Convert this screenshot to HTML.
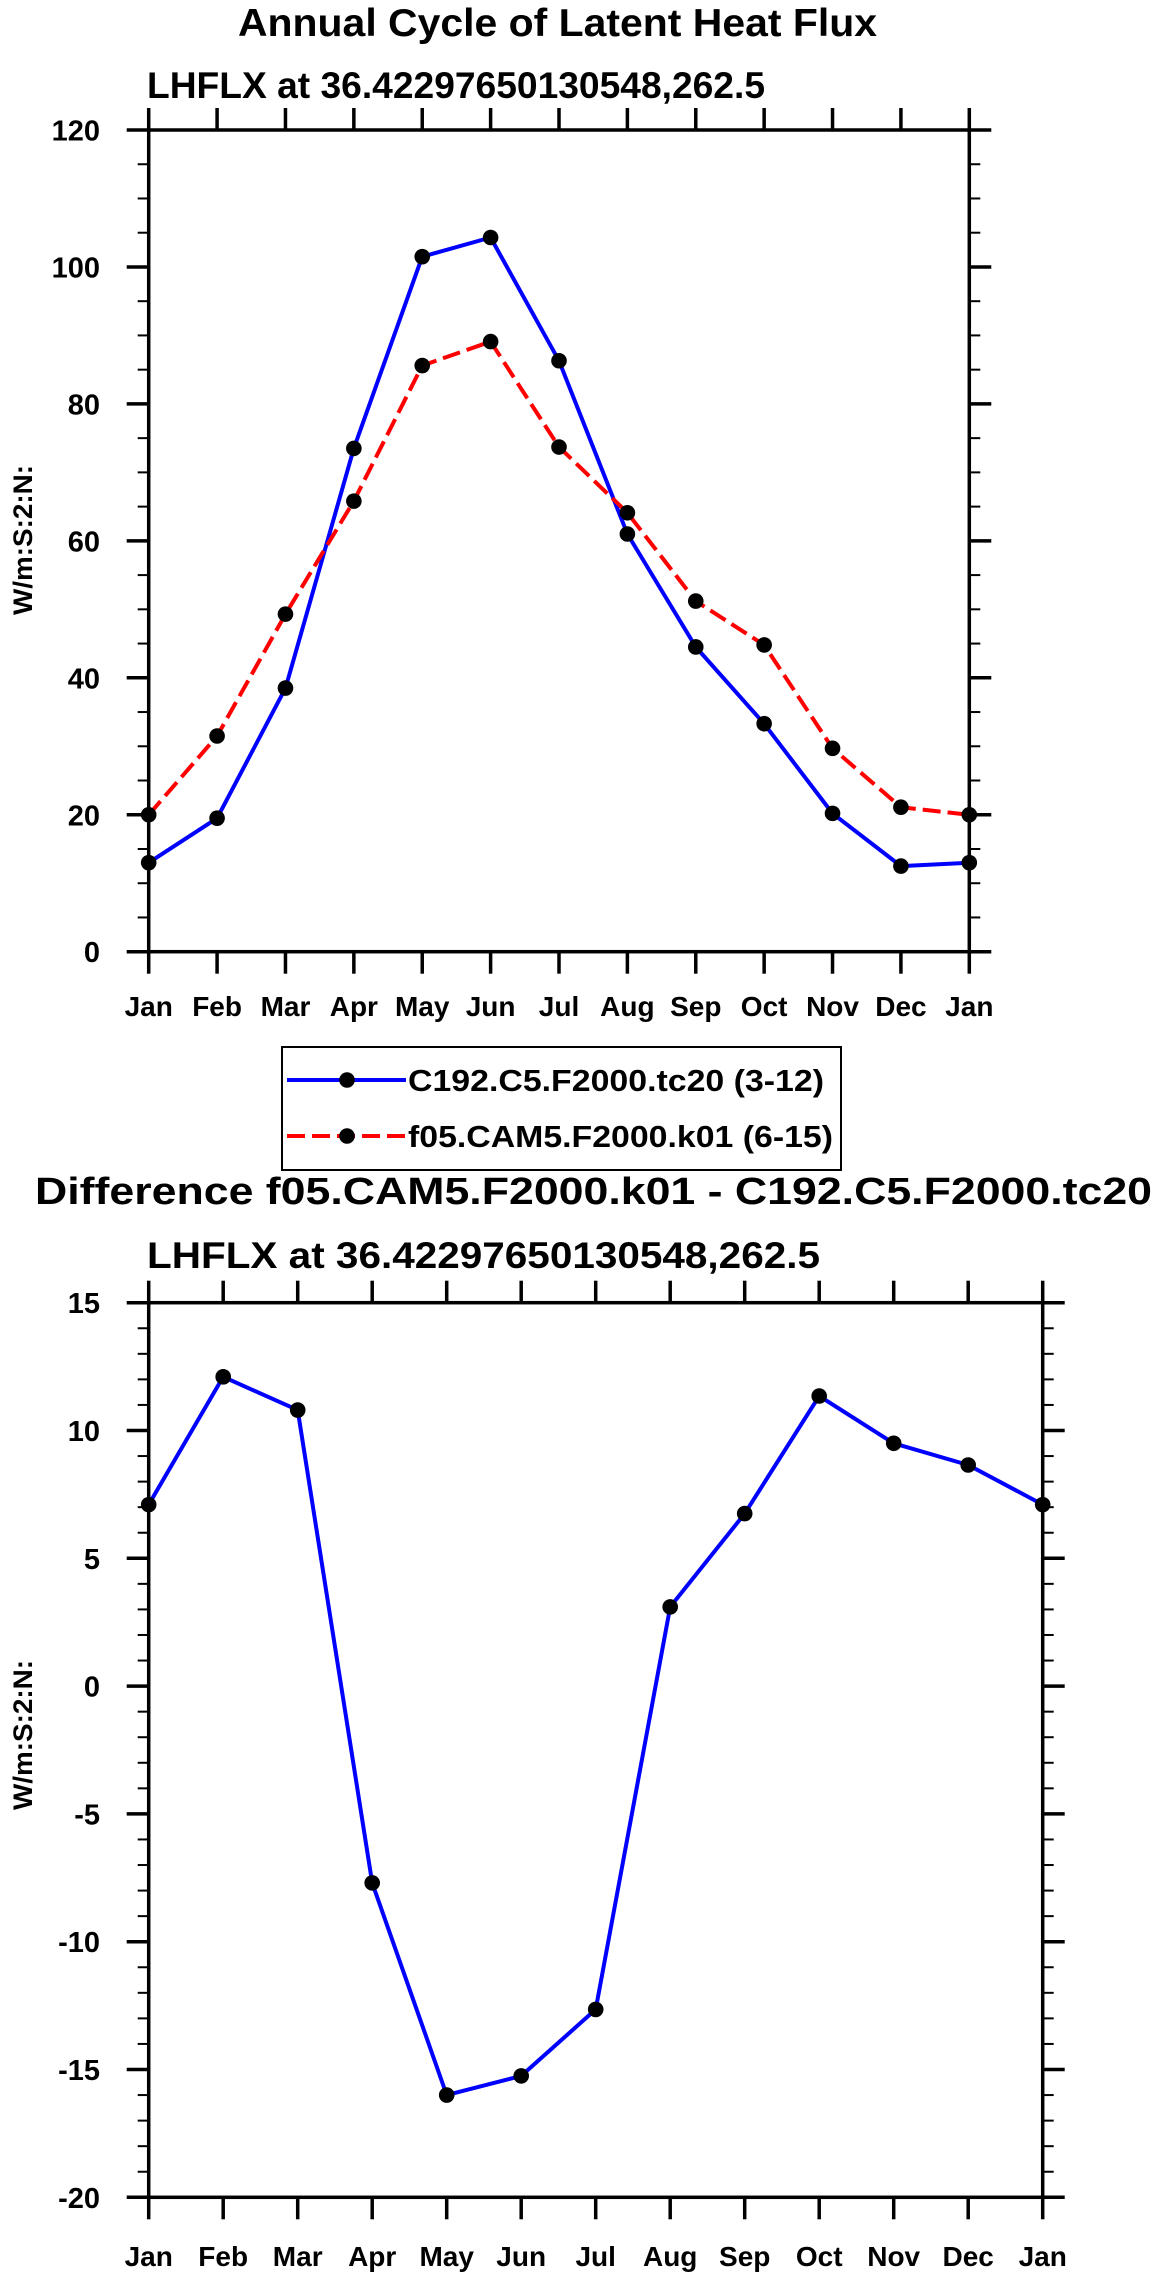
<!DOCTYPE html>
<html><head><meta charset="utf-8"><style>
html,body{margin:0;padding:0;background:#fff}
svg{display:block}
text{font-family:"Liberation Sans",sans-serif;font-weight:bold;fill:#000}
</style></head><body>
<svg id="svg" width="1161" height="2277" viewBox="0 0 1161 2277" xmlns="http://www.w3.org/2000/svg">
<text x="238" y="36" font-size="39" textLength="639" lengthAdjust="spacingAndGlyphs">Annual Cycle of Latent Heat Flux</text>
<text x="147" y="98" font-size="37" textLength="618" lengthAdjust="spacingAndGlyphs">LHFLX at 36.42297650130548,262.5</text>
<text x="0" y="0" font-size="27" text-anchor="middle" textLength="150" lengthAdjust="spacingAndGlyphs" transform="translate(32,540) rotate(-90)">W/m:S:2:N:</text>
<g id="top"></g>

<g>
<rect x="282" y="1047" width="559" height="123" fill="#fff" stroke="#000" stroke-width="2"/>
<g>
<line x1="287" y1="1080" x2="406" y2="1080" stroke="#0000ff" stroke-width="4"/>
<circle cx="347" cy="1080" r="7.8" fill="#000"/>
<text x="408" y="1091" font-size="31" textLength="416" lengthAdjust="spacingAndGlyphs">C192.C5.F2000.tc20 (3-12)</text>
</g>
<g>
<line x1="287" y1="1136" x2="406" y2="1136" stroke="#ff0000" stroke-width="4" stroke-dasharray="18,7"/>
<circle cx="347" cy="1136" r="7.8" fill="#000"/>
<text x="408" y="1147" font-size="31" textLength="425" lengthAdjust="spacingAndGlyphs">f05.CAM5.F2000.k01 (6-15)</text>
</g>
</g>

<text x="35" y="1204" font-size="38" textLength="1117" lengthAdjust="spacingAndGlyphs">Difference f05.CAM5.F2000.k01 - C192.C5.F2000.tc20</text>
<text x="147" y="1268" font-size="37" textLength="673" lengthAdjust="spacingAndGlyphs">LHFLX at 36.42297650130548,262.5</text>
<text x="0" y="0" font-size="27" text-anchor="middle" textLength="150" lengthAdjust="spacingAndGlyphs" transform="translate(32,1735) rotate(-90)">W/m:S:2:N:</text>
<g id="bot"></g>
</svg>
<script>
const months = ["Jan","Feb","Mar","Apr","May","Jun","Jul","Aug","Sep","Oct","Nov","Dec","Jan"];
const c192Values = [13, 19.5, 38.5, 73.5, 101.5, 104.3, 86.3, 61, 44.5, 33.3, 20.2, 12.5, 13];
const f05Values = [20, 31.5, 49.3, 65.8, 85.6, 89.1, 73.7, 64.1, 51.2, 44.8, 29.7, 21.1, 20];
const diffValues = [7.1, 12.1, 10.8, -7.7, -16, -15.25, -12.65, 3.1, 6.75, 11.35, 9.5, 8.65, 7.1];
const topYTicks = [0, 20, 40, 60, 80, 100, 120];
const botYTicks = [-20, -15, -10, -5, 0, 5, 10, 15];

const NS = "http://www.w3.org/2000/svg";
function mk(parent, tag, attrs){const e=document.createElementNS(NS,tag);for(const k in attrs)e.setAttribute(k,attrs[k]);parent.appendChild(e);return e;}

function drawPlot(g, cfg){
  const {x0,x1,y0,y1,ymin,ymax,yticks,minorStep,series,labelY,prefix} = cfg;
  const n = months.length;
  const xs = i => x0 + (x1-x0)*i/(n-1);
  const ys = v => y1 - (y1-y0)*(v-ymin)/(ymax-ymin);
  const fr = mk(g,'rect',{x:x0,y:y0,width:x1-x0,height:y1-y0,fill:'none',stroke:'#000','stroke-width':3.5});
  
  
  for(let v=ymin; v<=ymax+1e-9; v+=minorStep){
    if(yticks.some(t=>Math.abs(t-v)<1e-9)) continue;
    const y=ys(v);
    const a=mk(g,'line',{x1:x0-11,y1:y,x2:x0,y2:y,stroke:'#000','stroke-width':2});
    
    
    const b=mk(g,'line',{x1:x1,y1:y,x2:x1+11,y2:y,stroke:'#000','stroke-width':2});
    
    
  }
  yticks.forEach(v=>{
    const y=ys(v);
    const a=mk(g,'line',{x1:x0-22,y1:y,x2:x0,y2:y,stroke:'#000','stroke-width':3.5});
    
    
    const b=mk(g,'line',{x1:x1,y1:y,x2:x1+22,y2:y,stroke:'#000','stroke-width':3.5});
    
    
    const t=mk(g,'text',{x:100,y:y+10.5,'font-size':29,'text-anchor':'end'});
    t.textContent=String(v);
    
    
  });
  months.forEach((m,i)=>{
    const x=xs(i);
    const a=mk(g,'line',{x1:x,y1:y1,x2:x,y2:y1+22,stroke:'#000','stroke-width':3.5});
    
    
    const b=mk(g,'line',{x1:x,y1:y0-22,x2:x,y2:y0,stroke:'#000','stroke-width':3.5});
    
    
    const t=mk(g,'text',{x:x,y:labelY,'font-size':28,'text-anchor':'middle'});
    t.textContent=m;
    
    
  });
  series.forEach(s=>{
    const pts=s.values.map((v,i)=>xs(i).toFixed(1)+','+ys(v).toFixed(1)).join(' ');
    const pl=mk(g,'polyline',{points:pts,fill:'none',stroke:s.color,'stroke-width':4,'stroke-dasharray':s.dash||'none','stroke-linejoin':'round'});
    
    
    s.values.forEach((v,i)=>{
      const c=mk(g,'circle',{cx:xs(i),cy:ys(v),r:7.8,fill:'#000'});
      
      
    });
  });
}
drawPlot(document.getElementById('top'),{x0:148.7,x1:969.3,y0:130,y1:951.7,ymin:0,ymax:120,yticks:topYTicks,minorStep:5,labelY:1016,prefix:'top',
  series:[{name:'c192-series',values:c192Values,color:'#0000ff'},{name:'f05-series',values:f05Values,color:'#ff0000',dash:'18,7'}]});
drawPlot(document.getElementById('bot'),{x0:148.7,x1:1042.7,y0:1302.7,y1:2197.3,ymin:-20,ymax:15,yticks:botYTicks,minorStep:1,labelY:2266,prefix:'bottom',
  series:[{name:'difference-series',values:diffValues,color:'#0000ff'}]});
</script>
</body></html>
